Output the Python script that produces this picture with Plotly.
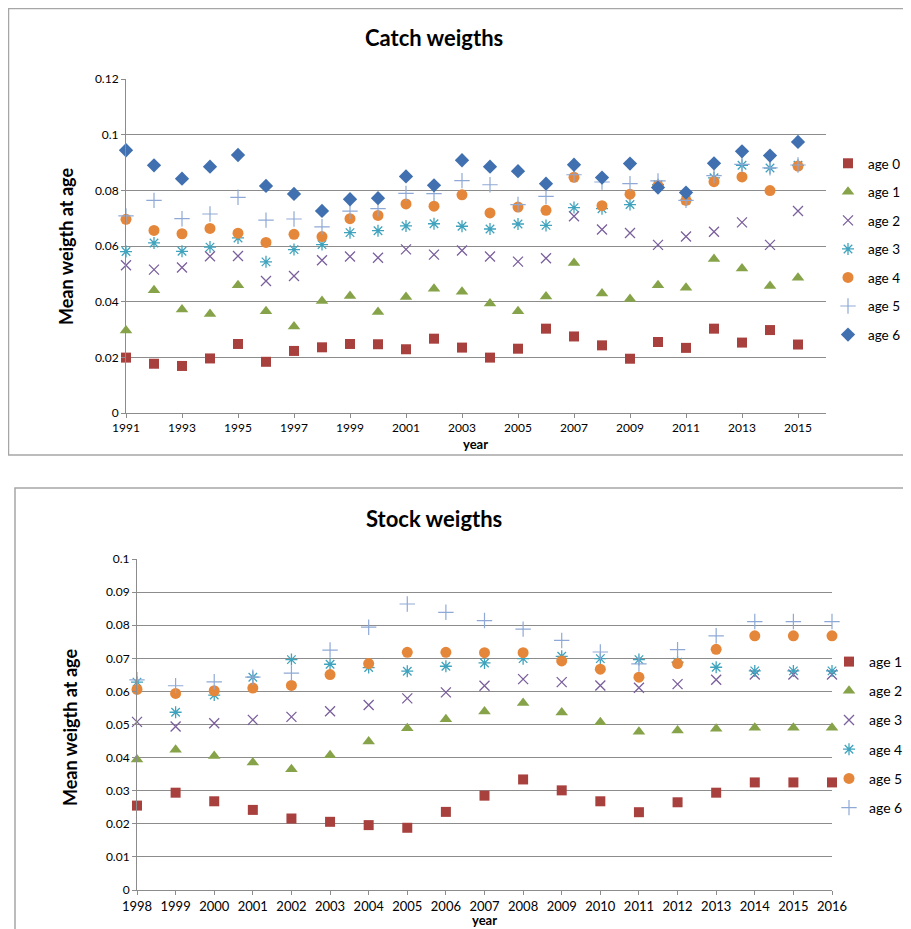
import plotly.graph_objects as go

# page body has an 8px margin; the figure is sized to sit inside the 911x929 window
OFF = 8
W, H = 911 - OFF, 929 - OFF

# ---------------- Catch weights data ----------------
catch_years = list(range(1991, 2016))
catch_age0 = [0.0199, 0.0177, 0.0169, 0.0196, 0.0248, 0.0184, 0.0223, 0.0236, 0.0248, 0.0247,
              0.0229, 0.0267, 0.0235, 0.0199, 0.0231, 0.0303, 0.0275, 0.0243, 0.0195, 0.0255,
              0.0234, 0.0303, 0.0253, 0.0298, 0.0246]
catch_age1 = [0.0296, 0.0441, 0.0372, 0.0356, 0.0459, 0.0366, 0.0311, 0.0402, 0.0420, 0.0363,
              0.0417, 0.0446, 0.0436, 0.0393, 0.0366, 0.0419, 0.0539, 0.0429, 0.0410, 0.0459,
              0.0450, 0.0553, 0.0519, 0.0456, 0.0486]
catch_age2 = [0.0531, 0.0515, 0.0523, 0.0563, 0.0564, 0.0474, 0.0492, 0.0549, 0.0562, 0.0558,
              0.0588, 0.0569, 0.0584, 0.0562, 0.0544, 0.0556, 0.0707, 0.0659, 0.0647, 0.0604,
              0.0634, 0.0651, 0.0685, 0.0604, 0.0726]
catch_age3 = [0.0580, 0.0611, 0.0581, 0.0596, 0.0629, 0.0543, 0.0587, 0.0605, 0.0648, 0.0655,
              0.0672, 0.0680, 0.0671, 0.0661, 0.0679, 0.0674, 0.0738, 0.0734, 0.0749, 0.0820,
              0.0765, 0.0845, 0.0890, 0.0880, 0.0890]
catch_age4 = [0.0696, 0.0656, 0.0644, 0.0663, 0.0646, 0.0613, 0.0642, 0.0634, 0.0698, 0.0710,
              0.0751, 0.0743, 0.0784, 0.0719, 0.0740, 0.0728, 0.0847, 0.0745, 0.0786, 0.0817,
              0.0764, 0.0831, 0.0848, 0.0799, 0.0887]
catch_age5 = [0.0708, 0.0764, 0.0698, 0.0715, 0.0775, 0.0693, 0.0697, 0.0669, 0.0725, 0.0734,
              0.0789, 0.0788, 0.0835, 0.0820, 0.0749, 0.0778, 0.0856, 0.0830, 0.0824, 0.0834,
              0.0764, 0.0853, 0.0893, 0.0881, 0.0891]
catch_age6 = [0.0944, 0.0890, 0.0842, 0.0885, 0.0927, 0.0816, 0.0787, 0.0726, 0.0768, 0.0772,
              0.0850, 0.0818, 0.0908, 0.0885, 0.0869, 0.0824, 0.0892, 0.0846, 0.0896, 0.0810,
              0.0792, 0.0897, 0.0940, 0.0925, 0.0974]
catch_names = ["age 0", "age 1", "age 2", "age 3", "age 4", "age 5", "age 6"]
catch_yticks = [0, 0.02, 0.04, 0.06, 0.08, 0.1, 0.12]
catch_yticktext = ["0", "0.02", "0.04", "0.06", "0.08", "0.1", "0.12"]

# ---------------- Stock weights data ----------------
stock_years = list(range(1998, 2017))
stock_age1 = [0.0255, 0.0294, 0.0268, 0.0242, 0.0216, 0.0206, 0.0196, 0.0188, 0.0236, 0.0285,
              0.0334, 0.0301, 0.0268, 0.0235, 0.0265, 0.0294, 0.0325, 0.0325, 0.0325]
stock_age2 = [0.0394, 0.0424, 0.0405, 0.0385, 0.0365, 0.0407, 0.0449, 0.0489, 0.0516, 0.0539,
              0.0565, 0.0536, 0.0507, 0.0478, 0.0482, 0.0487, 0.0490, 0.0490, 0.0490]
stock_age3 = [0.0508, 0.0494, 0.0504, 0.0514, 0.0523, 0.0540, 0.0559, 0.0579, 0.0597, 0.0617,
              0.0637, 0.0628, 0.0618, 0.0611, 0.0622, 0.0635, 0.0651, 0.0651, 0.0651]
stock_age4 = [0.0628, 0.0537, 0.0589, 0.0643, 0.0696, 0.0682, 0.0672, 0.0661, 0.0676, 0.0686,
              0.0699, 0.0706, 0.0699, 0.0696, 0.0688, 0.0673, 0.0662, 0.0662, 0.0662]
stock_age5 = [0.0606, 0.0594, 0.0602, 0.0610, 0.0618, 0.0651, 0.0684, 0.0718, 0.0718, 0.0717,
              0.0717, 0.0692, 0.0667, 0.0643, 0.0684, 0.0727, 0.0768, 0.0768, 0.0768]
stock_age6 = [0.0635, 0.0617, 0.0629, 0.0643, 0.0655, 0.0725, 0.0794, 0.0864, 0.0839, 0.0814,
              0.0788, 0.0754, 0.0719, 0.0683, 0.0726, 0.0768, 0.0811, 0.0811, 0.0811]
stock_names = ["age 1", "age 2", "age 3", "age 4", "age 5", "age 6"]
stock_yticks = [0, 0.01, 0.02, 0.03, 0.04, 0.05, 0.06, 0.07, 0.08, 0.09, 0.1]
stock_yticktext = ["0", "0.01", "0.02", "0.03", "0.04", "0.05", "0.06", "0.07", "0.08", "0.09", "0.1"]

# ---------------- styles ----------------
RED = "#A8403E"
GREEN = "#86A34A"
PURPLE = "#7A5F9C"
TEAL = "#3FA3BD"
ORANGE = "#E5873A"
LBLUE = "#8FA9D6"
BLUE = "#4170B0"

styles = {
    "square": dict(symbol="square", size=10, color=RED),
    "triangle": dict(symbol="triangle-up", size=11, color=GREEN),
    "x": dict(symbol="x-thin-open", size=10, color=PURPLE, line=dict(color=PURPLE, width=1.3)),
    "ast": dict(symbol="asterisk-open", size=10, color=TEAL, line=dict(color=TEAL, width=1.3)),
    "circle": dict(symbol="circle", size=11, color=ORANGE),
    "plus": dict(symbol="cross-thin-open", size=11, color=LBLUE, line=dict(color=LBLUE, width=1.2)),
    "diamond": dict(symbol="diamond", size=11, color=BLUE),
}

GRID = "#8C8C8C"
FONT = "Lato"

fig = go.Figure()

catch_series = [catch_age0, catch_age1, catch_age2, catch_age3, catch_age4, catch_age5, catch_age6]
catch_styles = ["square", "triangle", "x", "ast", "circle", "plus", "diamond"]
for name, vals, st in zip(catch_names, catch_series, catch_styles):
    fig.add_trace(go.Scatter(x=catch_years, y=vals, mode="markers", name=name,
                             marker=styles[st], xaxis="x", yaxis="y", cliponaxis=False,
                             legend="legend", legendgroup="c" + name))

stock_series = [stock_age1, stock_age2, stock_age3, stock_age4, stock_age5, stock_age6]
stock_styles = ["square", "triangle", "x", "ast", "circle", "plus"]
for name, vals, st in zip(stock_names, stock_series, stock_styles):
    fig.add_trace(go.Scatter(x=stock_years, y=vals, mode="markers", name=name,
                             marker=styles[st], xaxis="x2", yaxis="y2", cliponaxis=False,
                             legend="legend2", legendgroup="s" + name))


def px(x):
    return (x - OFF) / W


def py(y):
    return 1 - (y - OFF) / H


axis_common = dict(zeroline=False, showline=True, linecolor=GRID, linewidth=1,
                   ticks="outside", ticklen=4, tickcolor=GRID, fixedrange=True,
                   automargin=False)
grid = dict(showgrid=True, gridcolor=GRID, gridwidth=1)

fig.update_layout(
    width=W, height=H,
    margin=dict(l=0, r=0, t=0, b=0, autoexpand=False),
    paper_bgcolor="white", plot_bgcolor="white",
    xaxis=dict(domain=[px(126), px(826)], anchor="y", range=[1991, 2016],
               tick0=1991, dtick=2, showgrid=False,
               tickfont=dict(family=FONT, size=12, color="#000000"), **axis_common),
    yaxis=dict(domain=[py(413), py(79)], anchor="x", range=[0, 0.12],
               tickvals=catch_yticks, ticktext=catch_yticktext,
               tickfont=dict(family=FONT, size=12, color="#000000"), **grid, **axis_common),
    xaxis2=dict(domain=[px(137), px(832)], anchor="y2", range=[1998, 2016],
                tick0=1998, dtick=1, showgrid=False,
                tickfont=dict(family=FONT, size=13, color="#000000"), **axis_common),
    yaxis2=dict(domain=[py(890), py(559)], anchor="x2", range=[0, 0.1],
                tickvals=stock_yticks, ticktext=stock_yticktext,
                tickfont=dict(family=FONT, size=12, color="#000000"), **grid, **axis_common),
    legend=dict(x=px(828), y=py(148), xanchor="left", yanchor="top",
                traceorder="grouped", tracegroupgap=8,
                font=dict(family=FONT, size=13.5, color="#000000"),
                bgcolor="rgba(0,0,0,0)", itemclick=False, itemdoubleclick=False),
    legend2=dict(x=px(829), y=py(646), xanchor="left", yanchor="top",
                 traceorder="grouped", tracegroupgap=8,
                 font=dict(family=FONT, size=14, color="#000000"),
                 bgcolor="rgba(0,0,0,0)", itemclick=False, itemdoubleclick=False),
    showlegend=True,
)

# chart frames
fig.add_shape(type="rect", xref="paper", yref="paper",
              x0=px(8.5), x1=px(930), y0=py(455), y1=py(8.5),
              line=dict(color="#A6A6A6", width=1.5), layer="below")
fig.add_shape(type="rect", xref="paper", yref="paper",
              x0=px(15), x1=px(930), y0=py(950), y1=py(488),
              line=dict(color="#A6A6A6", width=1.5), layer="below")

# titles and axis titles
ann = [
    dict(text="<b>Catch weigths</b>", x=px(434), y=py(37), font=dict(family=FONT, size=22)),
    dict(text="<b>Stock weigths</b>", x=px(434), y=py(518), font=dict(family=FONT, size=22)),
    dict(text="<b>year</b>", x=px(476), y=py(444), font=dict(family=FONT, size=13)),
    dict(text="<b>year</b>", x=px(484), y=py(920), font=dict(family=FONT, size=13)),
    dict(text="<b>Mean weigth at age</b>", x=px(66), y=py(246), textangle=-90,
         font=dict(family=FONT, size=18)),
    dict(text="<b>Mean weigth at age</b>", x=px(70), y=py(728), textangle=-90,
         font=dict(family=FONT, size=18)),
]
for a in ann:
    a["font"]["color"] = "#000000"
    fig.add_annotation(xref="paper", yref="paper", showarrow=False,
                       xanchor="center", yanchor="middle", **a)

fig.write_html("out.html")
